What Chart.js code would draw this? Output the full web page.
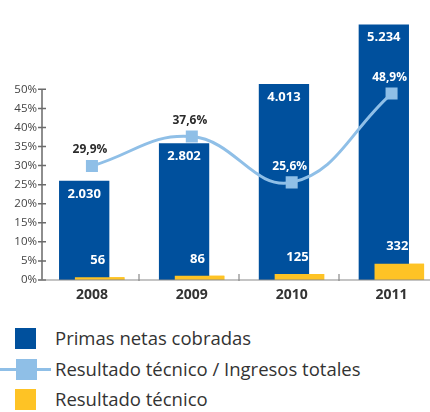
<!DOCTYPE html>
<html>
<head>
<meta charset="utf-8">
<script src="https://cdn.jsdelivr.net/npm/chart.js@4"></script>
<style>
  html, body { margin: 0; padding: 0; background: #fff; overflow: hidden; }
  #wrap { position: relative; width: 430px; height: 412px; overflow: hidden; }
  #box { position: absolute; left: 0; top: 0; width: 450px; height: 312px; }
  .leg { position: absolute; left: 0; font-family: "Open Sans", sans-serif; font-size: 18.5px; color: #333; }
  .sw { position: absolute; width: 21px; height: 21px; }
  .txt { position: absolute; left: 55px; top: -2px; line-height: 23px; white-space: nowrap; }
  .ln { position: absolute; left: 0; top: 9px; width: 51px; height: 3px; }
</style>
</head>
<body>
<div id="wrap">
  <div id="box"><canvas id="chart"></canvas></div>
  <div id="legend"></div>
</div>
<script>
var years = ['2008', '2009', '2010', '2011'];
var primas = [2030, 2802, 4013, 5234];
var resultado = [56, 86, 125, 332];
var ratio = [29.9, 37.6, 25.6, 48.9];
var pctTicks = [0, 5, 10, 15, 20, 25, 30, 35, 40, 45, 50];

var blue = '#00509d';
var yellow = '#fec325';
var light = '#8fbfe7';
var font = '"Open Sans", sans-serif';

function miles(n) {
    return String(n).replace(/\B(?=(\d{3})+(?!\d))/g, '.');
}
function pct(v) {
    return v.toFixed(1).replace('.', ',') + '%';
}

// ejes dibujados a mano (linea corta con cruces)
var axisPlugin = {
    id: 'axisLines',
    afterDatasetsDraw: function (chart) {
        var ctx = chart.ctx, area = chart.chartArea;
        var x = chart.scales.x, y = chart.scales.y;
        var left = area.left;
        var base = y.getPixelForValue(0);

        // encima de las azules, redibujo las amarillas
        chart.getDatasetMeta(2).controller.draw();

        ctx.save();
        ctx.strokeStyle = '#6a6a6a';
        ctx.lineWidth = 1.5;
        ctx.beginPath();
        ctx.moveTo(left, base);
        ctx.lineTo(left, y.getPixelForValue(50));
        pctTicks.forEach(function (v) {
            var py = y.getPixelForValue(v);
            ctx.moveTo(left - 4, py);
            ctx.lineTo(left + 4, py);
        });
        ctx.stroke();

        ctx.strokeStyle = '#8a8a8a';
        ctx.lineWidth = 1.2;
        ctx.beginPath();
        ctx.moveTo(left - 4, base);
        ctx.lineTo(chart.width, base);
        for (var i = 1; i < years.length; i++) {
            var px = Math.round((x.getPixelForValue(i - 1) + x.getPixelForValue(i)) / 2) - 3;
            ctx.moveTo(px, base - 6);
            ctx.lineTo(px, base + 1);
        }
        ctx.stroke();
        ctx.restore();
    }
};

var labelPlugin = {
    id: 'valueLabels',
    afterDatasetsDraw: function (chart) {
        var ctx = chart.ctx;
        var linePts = chart.getDatasetMeta(0).data;
        var blueBars = chart.getDatasetMeta(1).data;
        var yellowBars = chart.getDatasetMeta(2).data;
        ctx.save();
        ctx.textAlign = 'center';
        ctx.textBaseline = 'middle';
        ctx.font = 'bold 13px ' + font;
        ctx.fillStyle = '#fff';
        blueBars.forEach(function (el, i) {
            ctx.fillText(miles(primas[i]), el.x, el.y + 13);
        });
        yellowBars.forEach(function (el, i) {
            ctx.fillText(miles(resultado[i]), el.x - 2, el.y - 17);
        });
        ctx.font = 'bold 12px ' + font;
        linePts.forEach(function (pt, i) {
            var ty = pt.y - 16;
            ctx.fillStyle = ty > blueBars[i].y + 6 ? '#fff' : '#2b2b2b';
            ctx.fillText(pct(ratio[i]), pt.x - 2, ty);
        });
        ctx.restore();
    }
};

var chart = new Chart(document.getElementById('chart'), {
    type: 'bar',
    data: {
        labels: years,
        datasets: [
            {
                type: 'line',
                label: 'Resultado técnico / Ingresos totales',
                data: ratio,
                yAxisID: 'y',
                borderColor: light,
                backgroundColor: light,
                borderWidth: 3,
                pointStyle: 'rect',
                pointRadius: 8.5,
                pointBorderWidth: 0,
                tension: 0.42,
                order: 0
            },
            {
                label: 'Primas netas cobradas',
                data: primas,
                yAxisID: 'y2',
                backgroundColor: blue,
                categoryPercentage: 0.31,
                barPercentage: 3.25,
                order: 1
            },
            {
                label: 'Resultado técnico',
                data: resultado,
                yAxisID: 'y2',
                backgroundColor: yellow,
                categoryPercentage: 0.31,
                barPercentage: 3.2,
                order: 2
            }
        ]
    },
    options: {
        responsive: true,
        maintainAspectRatio: false,
        animation: false,
        layout: { padding: { top: 0, right: 2, left: 0, bottom: 0 } },
        plugins: {
            legend: { display: false },
            tooltip: { enabled: false }
        },
        scales: {
            x: {
                grid: { display: false, drawTicks: false },
                border: { display: false },
                ticks: { color: '#333', padding: 7, font: { family: font, size: 14, weight: 'bold' } },
                afterFit: function (s) { s.height = 32; }
            },
            y: {
                position: 'left',
                min: 0,
                max: 70.3,
                grid: { display: false, drawTicks: false },
                border: { display: false },
                ticks: {
                    stepSize: 5,
                    padding: 5,
                    color: '#444',
                    font: { family: font, size: 11.5 },
                    callback: function (v) { return v <= 50 ? v + '%' : null; }
                },
                afterFit: function (s) { s.width = 42; }
            },
            y2: { display: false, min: 0, max: 5490 }
        }
    },
    plugins: [axisPlugin, labelPlugin]
});

// leyenda
var legendRows = [
    { text: 'Primas netas cobradas', color: blue, top: 328, left: 15, line: false },
    { text: 'Resultado técnico / Ingresos totales', color: light, top: 359, left: 16, line: true },
    { text: 'Resultado técnico', color: yellow, top: 389, left: 15, line: false }
];
var legend = document.getElementById('legend');
legendRows.forEach(function (r) {
    var row = document.createElement('div');
    row.className = 'leg';
    row.style.top = r.top + 'px';
    var html = '';
    if (r.line) html += '<div class="ln" style="background:' + r.color + '"></div>';
    html += '<div class="sw" style="left:' + r.left + 'px;background:' + r.color + '"></div>';
    html += '<div class="txt">' + r.text + '</div>';
    row.innerHTML = html;
    legend.appendChild(row);
});
</script>
</body>
</html>
